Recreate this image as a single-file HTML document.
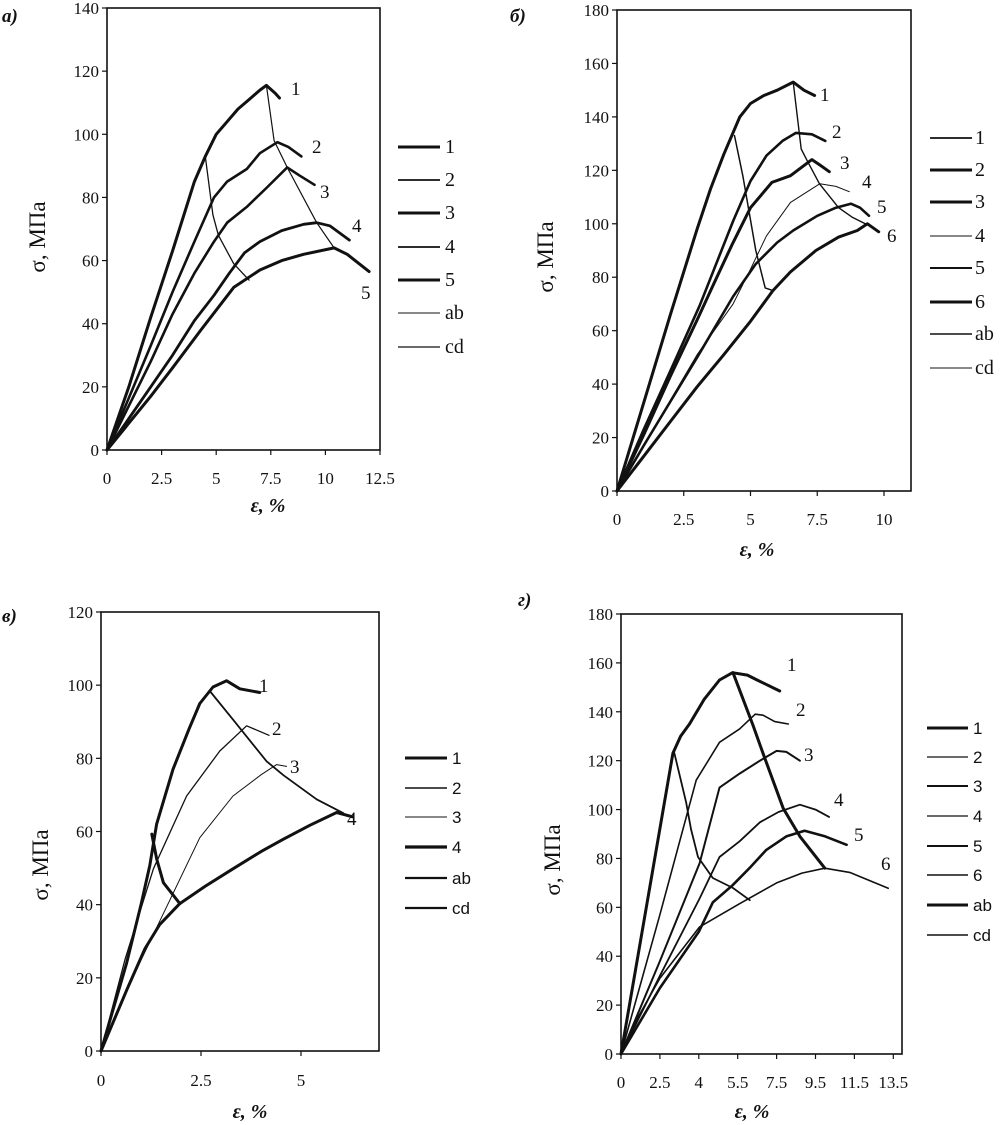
<!DOCTYPE html>
<html><head><meta charset="utf-8"><style>
html,body{margin:0;padding:0;background:#fff;}
svg{display:block;}
.tk{font-family:"Liberation Serif",serif;font-size:17px;fill:#111;}
.ttl{font-family:"Liberation Serif",serif;font-size:23px;fill:#111;}
.xt{font-family:"Liberation Serif",serif;font-size:20px;font-weight:bold;font-style:italic;fill:#111;}
.lgs{font-family:"Liberation Serif",serif;font-size:20px;fill:#111;}
.lgn{font-family:"Liberation Sans",sans-serif;font-size:17px;fill:#111;}
.cl{font-family:"Liberation Serif",serif;font-size:19px;fill:#111;}
.pl{font-family:"Liberation Serif",serif;font-size:19px;font-style:italic;font-weight:bold;fill:#111;}
</style></head><body>
<svg id="fig" width="1001" height="1125" viewBox="0 0 1001 1125" xmlns="http://www.w3.org/2000/svg"></svg>
<script>
// ---------- DATA (ε %, σ MPa) ----------
const aTicksX=[0,2.5,5,7.5,10,12.5];
const aTicksY=[0,20,40,60,80,100,120,140];
const aCurve1=[[0,0],[1,20],[2,42],[3,63],[4,85],[4.5,93],[5,100],[5.5,104],[6,108],[6.5,111],[7,114],[7.3,115.5],[7.7,113],[7.9,111.5]];
const aCurve2=[[0,0],[2,33],[3,50],[4,66],[4.9,80],[5.5,85],[6.4,89],[7,94],[7.8,97.5],[8.3,96],[8.9,93]];
const aCurve3=[[0,0],[2,28],[3,43],[4,56],[4.9,66],[5.5,72],[6.4,77],[7.3,83],[8.25,89.5],[8.8,87],[9.5,84]];
const aCurve4=[[0,0],[2,20],[3,30],[4,41],[4.9,49],[5.6,56],[6.3,62.5],[7,66],[8,69.5],[9,71.5],[9.6,72],[10.2,71],[11.1,66.5]];
const aCurve5=[[0,0],[2,17],[3,26],[4.3,38],[5.8,51.5],[7,57],[8,60],[9,62],[10.4,64],[11,62],[12,56.5]];
const aAb=[[4.5,93],[4.85,74.5],[5.1,68],[5.8,59],[6.5,53.8]];
const aCd=[[7.3,115.5],[7.65,98],[8.25,89.5],[9.6,72],[10.4,64]];

const bTicksX=[0,2.5,5,7.5,10];
const bTicksY=[0,20,40,60,80,100,120,140,160,180];
const bCurve1=[[0,0],[1,33],[2,66],[3,98],[3.5,113],[4,126],[4.6,140],[5,145],[5.5,148],[6,150],[6.6,153],[7,150],[7.4,148]];
const bCurve2=[[0,0],[1,23],[2,45],[3.1,69.5],[4.35,101],[5,116],[5.6,125.5],[6.2,131],[6.7,134],[7.3,133.5],[7.8,131]];
const bCurve3=[[0,0],[1,21],[2,43],[3,64],[3.6,77],[4.3,92],[5,106],[5.8,115.5],[6.5,118],[7.3,124],[7.6,122],[7.95,119.5]];
const bCurve4=[[0,0],[1,17],[2,34],[3,51],[4.35,70],[5,83],[5.6,95.5],[6.5,108],[7.6,115],[8.2,114],[8.7,112]];
const bCurve5=[[0,0],[1,17],[2,33.5],[3,50],[4.35,72.8],[5.2,85],[6,93],[6.6,97.5],[7.5,103],[8.2,106],[8.76,107.5],[9.1,106],[9.44,103]];
const bCurve6=[[0,0],[1,13],[2,26],[3,39],[4,51],[5,63.5],[5.84,75],[6.5,82],[7.45,90],[8.3,95],[9,97.5],[9.38,100],[9.8,97]];
const bAb=[[4.4,133],[4.72,117.6],[5.2,90],[5.55,76],[5.84,75]];
const bCd=[[6.6,153],[6.9,128],[7.1,124],[7.58,115],[8.3,106],[8.8,102.5],[9.3,100]];

const cTicksX=[0,2.5,5];
const cTicksY=[0,20,40,60,80,100,120];
const cCurve1=[[0,0],[0.64,24],[1.0,40],[1.22,50.7],[1.39,62],[1.8,77],[2.2,88],[2.47,95],[2.8,99.5],[3.14,101.2],[3.47,99],[3.97,98]];
const cCurve2=[[0,0],[0.6,25],[1.31,49.8],[2.14,69.7],[2.97,82],[3.64,88.9],[4.2,86.3]];
const cCurve3=[[0,0],[0.7,18],[1.39,33.7],[2.47,58.3],[3.3,69.7],[4.0,75.5],[4.39,78.3],[4.64,77.8]];
const cCurve4=[[0,0],[0.64,16.6],[1.1,28],[1.47,34.6],[1.97,40.3],[2.6,45],[3.3,49.8],[4.0,54.5],[4.56,57.9],[5.22,61.7],[5.89,65.2],[6.3,64]];
const cAb=[[1.27,59.3],[1.39,52.6],[1.56,46],[1.97,40.3]];
const cCd=[[2.72,98.4],[3.3,90.6],[4.14,79.2],[4.56,75.4],[5.39,68.8],[6.06,65]];

const dTicksX=[0,2.5,4,5.5,7.5,9.5,11.5,13.5];
const dTicksY=[0,20,40,60,80,100,120,140,160,180];
const dCurve1=[[0,0],[3.0,123],[3.3,130],[3.64,135],[4.2,145],[4.8,153],[5.3,156],[6.0,155],[6.5,153],[7.66,148.5]];
const dCurve2=[[0,0],[2.5,57],[3.9,112],[4.8,127.5],[5.6,133],[6.4,139],[6.8,138.6],[7.4,136],[8.1,135]];
const dCurve3=[[0,0],[2.5,38],[4.03,78],[4.5,97],[4.8,109],[5.6,114.7],[6.64,120],[7.5,124],[8.0,123.6],[8.7,120]];
const dCurve4=[[0,0],[2.5,32],[4.03,63.6],[4.8,80.6],[5.6,87],[6.64,94.8],[7.6,99],[8.7,102],[9.5,100],[10.2,97]];
const dCurve5=[[0,0],[2.5,27],[4.0,50],[4.54,62],[5.3,69],[6.1,76],[6.97,83.5],[8.0,89],[8.94,91.3],[10,89],[11.1,85.6]];
const dCurve6=[[0,0],[1,14],[2.5,31],[4.03,52],[5.6,61.5],[7.5,70],[8.8,74],[9.98,76],[11.26,74.3],[13.24,67.8]];
const dAb=[[3.06,123],[3.51,103],[3.7,92],[3.97,80.6],[4.54,72],[5.32,67.9],[6.12,62.9]];
const dCd=[[5.32,156],[6.28,134.6],[6.8,123],[7.84,100.5],[8.7,89],[9.98,76]];

// ---------- drawing ----------
const NS="http://www.w3.org/2000/svg";
const svg=document.getElementById('fig');
function mk(tag,attrs,parent){const e=document.createElementNS(NS,tag);for(const k in attrs)e.setAttribute(k,attrs[k]);(parent||svg).appendChild(e);return e;}
function txt(s,x,y,cls,anchor,parent){const t=mk('text',{x:x,y:y,class:cls,'text-anchor':anchor||'start'},parent);t.textContent=s;return t;}

function linScale(d0,d1,p0,p1){return v=>p0+(v-d0)*(p1-p0)/(d1-d0);}
function catScale(ticks,p0,step){return v=>{for(let i=0;i<ticks.length-1;i++){if(v<=ticks[i+1]||i===ticks.length-2){return p0+(i+(v-ticks[i])/(ticks[i+1]-ticks[i]))*step;}}return p0;};}

function panel(P){
  const g=mk('g',{});
  
  
  const fr=mk('rect',{x:P.left,y:P.top,width:P.right-P.left,height:P.bottom-P.top,fill:'none',stroke:'#111','stroke-width':1.6},g);
  
  
  P.ticksY.forEach(v=>{const y=P.ys(v);
    const l=mk('line',{x1:P.left-5,x2:P.left,y1:y,y2:y,stroke:'#111','stroke-width':1.2},g);
    
    const t=txt(String(v),P.left-8,y+6,'tk','end',g);
    
  });
  P.ticksX.forEach(v=>{const x=P.xs(v);
    const l=mk('line',{x1:x,x2:x,y1:P.bottom,y2:P.bottom+5,stroke:'#111','stroke-width':1.2},g);
    
    const t=txt(String(v),x,P.bottom+P.xlabOff,'tk','middle',g);
    
  });
  P.series.forEach(s=>{
    const d=s.data.map((p,i)=>(i?'L':'M')+P.xs(p[0]).toFixed(1)+','+P.ys(p[1]).toFixed(1)).join(' ');
    const path=mk('path',{d:d,fill:'none',stroke:'#111','stroke-width':s.w,'stroke-linejoin':'round','stroke-linecap':'round'},g);
    
    
  });
  P.clabels.forEach(c=>{const t=txt(c[0],c[1],c[2],'cl','start',g);
    });
  P.legend.forEach((e,i)=>{const y=P.legY[i];
    const l=mk('line',{x1:P.legX[0],x2:P.legX[1],y1:y,y2:y,stroke:'#111','stroke-width':e[1]},g);
    
    const t=txt(e[0],P.legX[2],y+6,P.legCls,'start',g);
    
  });
  const yt=txt('σ, МПа',0,0,'ttl','middle',g);
  yt.setAttribute('transform','translate('+P.ytitle[0]+','+P.ytitle[1]+') rotate(-90)');
  
  const xt=txt('ε, %',P.xtitle[0],P.xtitle[1],'xt','middle',g);
  
  const pl=txt(P.letter,P.letterPos[0],P.letterPos[1],'pl','start',g);
  
}

panel({name:'panel-a',left:107,right:380,top:8,bottom:450,
  xs:linScale(0,12.5,107,380),ys:linScale(0,140,450,8),ticksX:aTicksX,ticksY:aTicksY,xlabOff:34,
  series:[{key:'1',data:aCurve1,w:3},{key:'2',data:aCurve2,w:2.6},{key:'3',data:aCurve3,w:2.6},{key:'4',data:aCurve4,w:2.8},{key:'5',data:aCurve5,w:3},{key:'ab',data:aAb,w:1.3},{key:'cd',data:aCd,w:1.2}],
  clabels:[['1',291,95],['2',312,153],['3',320,198],['4',352,232],['5',361,299]],
  legend:[['1',3],['2',1.8],['3',3],['4',1.8],['5',3],['ab',1],['cd',1.2]],legX:[398,440,445],legY:[147,180,213,247,280,313,347],legCls:'lgs',
  ytitle:[45,237],xtitle:[268,512],letter:'а)',letterPos:[2,22]});

panel({name:'panel-b',left:617,right:911,top:10,bottom:491,
  xs:linScale(0,10,617,884),ys:linScale(0,180,491,10),ticksX:bTicksX,ticksY:bTicksY,xlabOff:34,
  series:[{key:'1',data:bCurve1,w:3},{key:'2',data:bCurve2,w:2.6},{key:'3',data:bCurve3,w:3},{key:'4',data:bCurve4,w:1},{key:'5',data:bCurve5,w:2.6},{key:'6',data:bCurve6,w:3},{key:'ab',data:bAb,w:1.5},{key:'cd',data:bCd,w:1.4}],
  clabels:[['1',820,101],['2',832,138],['3',840,169],['4',862,188],['5',877,213],['6',887,242]],
  legend:[['1',1.8],['2',3],['3',3],['4',1],['5',2],['6',3],['ab',1.6],['cd',1]],legX:[930,972,975],legY:[138,170,202,236,268,302,334,368],legCls:'lgs',
  ytitle:[553,257],xtitle:[757,556],letter:'б)',letterPos:[510,22]});

panel({name:'panel-c',left:101,right:379,top:612,bottom:1051,
  xs:linScale(0,5,101,301),ys:linScale(0,120,1051,612),ticksX:cTicksX,ticksY:cTicksY,xlabOff:35,
  series:[{key:'1',data:cCurve1,w:3},{key:'2',data:cCurve2,w:1.3},{key:'3',data:cCurve3,w:1},{key:'4',data:cCurve4,w:3},{key:'ab',data:cAb,w:3},{key:'cd',data:cCd,w:1.8}],
  clabels:[['1',259,692],['2',272,735],['3',290,773],['4',347,825]],
  legend:[['1',3],['2',1.6],['3',1],['4',3.2],['ab',2.2],['cd',2.2]],legX:[405,447,452],legY:[758,788,817,847,878,908],legCls:'lgn',
  ytitle:[48,865],xtitle:[250,1118],letter:'в)',letterPos:[2,622]});

panel({name:'panel-d',left:621,right:902,top:614,bottom:1054,
  xs:catScale(dTicksX,621,38.9),ys:linScale(0,180,1054,614),ticksX:dTicksX,ticksY:dTicksY,xlabOff:34,
  series:[{key:'1',data:dCurve1,w:3},{key:'2',data:dCurve2,w:1.6},{key:'3',data:dCurve3,w:2},{key:'4',data:dCurve4,w:1.8},{key:'5',data:dCurve5,w:2.6},{key:'6',data:dCurve6,w:1.6},{key:'ab',data:dAb,w:1.8},{key:'cd',data:dCd,w:3}],
  clabels:[['1',787,671],['2',796,716],['3',804,761],['4',834,806],['5',854,841],['6',881,870]],
  legend:[['1',3],['2',1.2],['3',2],['4',1.2],['5',2],['6',1.4],['ab',3],['cd',1.4]],legX:[927,968,973],legY:[728,757,786,816,846,875,905,935],legCls:'lgn',
  ytitle:[560,860],xtitle:[752,1118],letter:'г)',letterPos:[518,606]});
</script>
</body></html>
